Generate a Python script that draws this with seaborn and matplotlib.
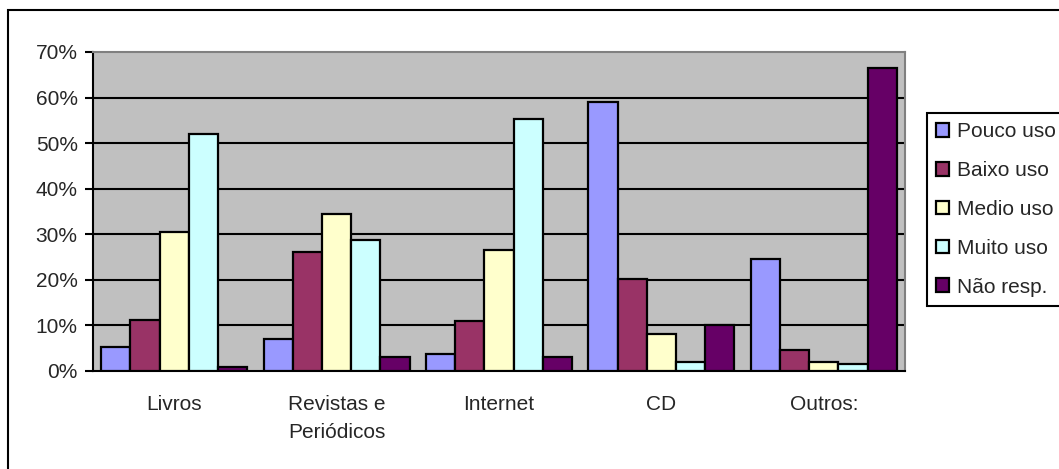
import pandas as pd
import matplotlib.pyplot as plt
import matplotlib.patches as mpatches
from matplotlib.ticker import PercentFormatter, FixedLocator
import seaborn as sns

# categories and series (percent)
categorias = ["Livros", "Revistas e\nPeriódicos", "Internet", "CD", "Outros:"]
series = ["Pouco uso", "Baixo uso", "Medio uso", "Muito uso", "Não resp."]
pouco = [5.2, 7.0, 3.8, 59.1, 24.5]
baixo = [11.3, 26.2, 10.9, 20.1, 4.7]
medio = [30.6, 34.5, 26.6, 8.2, 2.0]
muito = [52.0, 28.7, 55.2, 2.0, 1.5]
nao = [0.8, 3.0, 3.0, 10.1, 66.5]
cores = ["#9999FF", "#993366", "#FFFFCC", "#CCFFFF", "#660066"]

rows = []
for s, vals in zip(series, [pouco, baixo, medio, muito, nao]):
    for c, v in zip(categorias, vals):
        rows.append({"cat": c, "serie": s, "val": v / 100})
df = pd.DataFrame(rows)

sns.set_style("white")
plt.rcParams["font.family"] = ["Liberation Sans", "DejaVu Sans"]
fs = 15

fig = plt.figure(figsize=(10.59, 4.69), dpi=100)
W, H = 1059, 469
ax = fig.add_axes([93 / W, 1 - 371 / H, (905 - 93) / W, (371 - 52) / H])
ax.set_facecolor("#C0C0C0")

sns.barplot(data=df, x="cat", y="val", hue="serie", palette=cores, order=categorias,
            hue_order=series, width=0.9, gap=0, edgecolor="black", linewidth=1.6,
            saturation=1, ax=ax, zorder=3)

ax.set_xlim(-0.5, 4.5)
ax.set_ylim(0, 0.7)
ax.set_yticks([i / 10 for i in range(8)])
ax.yaxis.set_major_formatter(PercentFormatter(1.0, decimals=0))
for y in range(1, 7):
    ax.axhline(y / 10, color="black", lw=1.5, zorder=1)

ax.xaxis.set_minor_locator(FixedLocator([i - 0.5 for i in range(6)]))
ax.tick_params(axis="x", which="major", length=0, pad=17, labelsize=fs)
ax.tick_params(axis="x", which="minor", length=6, width=1.5, color="black", direction="out")
ax.tick_params(axis="y", length=6, width=1.5, color="black", direction="out", left=True, pad=5, labelsize=fs)
for lbl in ax.get_xticklabels():
    lbl.set_linespacing(1.6)
ax.set_xlabel("")
ax.set_ylabel("")

for side in ["left", "bottom"]:
    ax.spines[side].set_color("black")
    ax.spines[side].set_linewidth(1.5)
for side in ["top", "right"]:
    ax.spines[side].set_color("#808080")
    ax.spines[side].set_linewidth(1.5)

handles, labels = ax.get_legend_handles_labels()
ax.legend(handles, labels, loc="upper left", bbox_to_anchor=(927 / W, 1 - 113 / H),
          bbox_transform=fig.transFigure, frameon=True, fancybox=False, edgecolor="black",
          framealpha=1, handlelength=0.62, handleheight=0.62, handletextpad=0.38,
          labelspacing=0.95, borderpad=0.45, borderaxespad=0, fontsize=fs)
ax.get_legend().get_frame().set_linewidth(1.5)

# outer chart border
fig.patches.append(mpatches.Rectangle((8 / W, -0.2), 1.2, 1.2 - 10 / H, transform=fig.transFigure,
                                      fill=False, edgecolor="black", lw=1.5))

fig.savefig("out.png", dpi=100, facecolor="white")
